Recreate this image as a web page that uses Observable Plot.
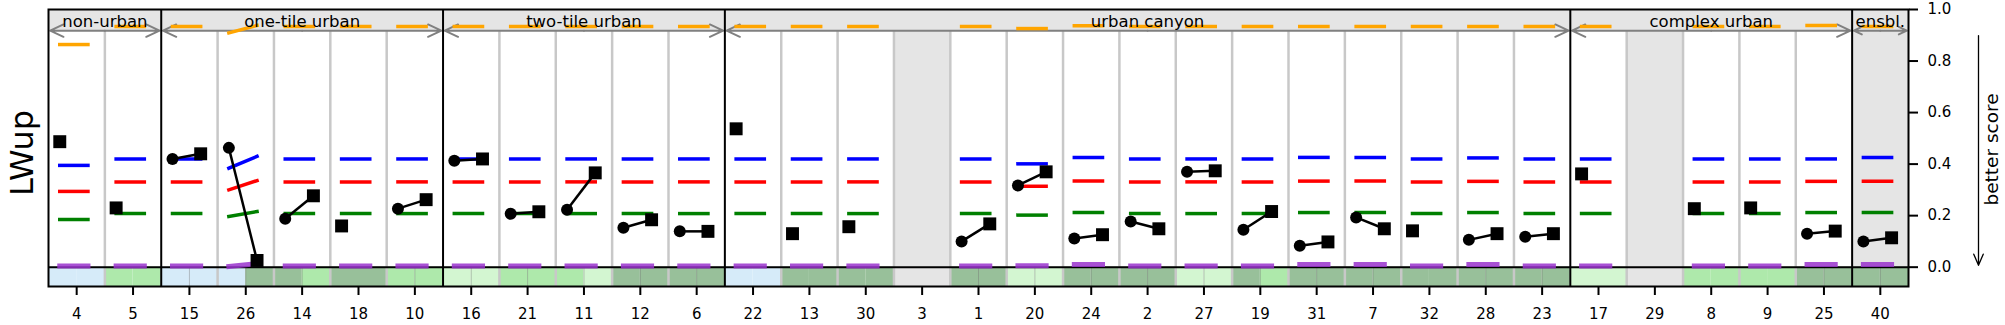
<!DOCTYPE html>
<html><head><meta charset="utf-8">
<script src="https://cdn.jsdelivr.net/npm/d3@7"></script>
<script src="https://cdn.jsdelivr.net/npm/@observablehq/plot@0.6"></script>
<style>body{margin:0;background:#fff}</style>
</head><body><div id="chart"></div>
<script>
// ---------------- data ----------------
const categories = ["4","5","15","26","14","18","10","16","21","11","12","6","22","13","30","3","1","20","24","2","27","19","31","7","32","28","23","17","29","8","9","25","40"];
const groupNames = ["non-urban","one-tile urban","two-tile urban","urban canyon","complex urban","ensbl."];
const groupSizes = [2,5,5,15,5,1];
const yTicks = [0.0,0.2,0.4,0.6,0.8,1.0];
const yLabel = "LWup";
const sideLabel = "better score";

// reference model scores per site (single value = flat, [left,right] = two configs)
const orangeRef = [0.864,0.934,0.934,[0.909,0.938],0.934,0.934,0.934,0.934,0.934,0.934,0.934,0.934,0.934,0.934,0.934,null,0.934,0.926,0.937,0.934,0.934,0.934,0.934,0.934,0.934,0.934,0.934,0.934,null,0.934,0.934,0.938,0.934];
const blueRef   = [0.395,0.42,0.42,[0.384,0.43],0.42,0.42,0.42,0.42,0.42,0.42,0.42,0.42,0.42,0.42,0.42,null,0.42,0.401,0.426,0.42,0.42,0.42,0.426,0.426,0.42,0.424,0.42,0.42,null,0.42,0.42,0.42,0.426];
const redRef    = [0.294,0.331,0.331,[0.300,0.336],0.331,0.331,0.331,0.331,0.331,0.331,0.331,0.331,0.331,0.331,0.331,null,0.331,0.314,0.334,0.331,0.331,0.331,0.334,0.334,0.331,0.333,0.331,0.331,null,0.331,0.331,0.333,0.333];
const greenRef  = [0.185,0.208,0.208,[0.197,0.216],0.208,0.208,0.208,0.208,0.208,0.208,0.208,0.208,0.208,0.208,0.208,null,0.208,0.202,0.212,0.208,0.208,0.208,0.212,0.212,0.208,0.212,0.208,0.208,null,0.208,0.208,0.212,0.212];
const purpleRef = [0.005,0.005,0.005,[0.003,0.014],0.005,0.005,0.005,0.005,0.005,0.005,0.005,0.005,0.005,0.005,0.005,null,0.005,0.006,0.01,0.005,0.005,0.005,0.01,0.01,0.005,0.01,0.005,0.005,null,0.005,0.005,0.01,0.01];

// model scores: first configuration (circle) and second (square)
const circleVals = [null,null,0.42,0.463,0.188,null,0.227,0.413,0.207,0.223,0.153,0.139,null,null,null,null,0.10,0.317,0.111,0.177,0.37,0.145,0.083,0.193,null,0.106,0.118,null,null,null,null,0.13,0.10];
const squareVals = [0.487,0.23,0.44,0.026,0.277,0.16,0.262,0.42,0.215,0.366,0.184,0.139,0.537,0.13,0.157,null,0.168,0.37,0.126,0.149,0.374,0.216,0.098,0.149,0.141,0.13,0.13,0.362,null,0.227,0.23,0.14,0.114];

// bottom strip categories (left half, right half)
const stripLeft  = ["lb","lg","lb","lb","dg","dg","lg","pg","lg","lg","dg","dg","lb","dg","dg","gr","dg","pg","dg","dg","pg","dg","dg","dg","dg","dg","dg","pg","gr","lg","lg","dg","dg"];
const stripRight = ["lb","lg","lb","dg","lg","dg","lg","pg","lg","pg","dg","dg","lb","dg","dg","gr","dg","pg","dg","dg","pg","lg","dg","dg","dg","dg","dg","pg","gr","lg","lg","dg","dg"];
const shadedCols = ["3","29","40"];

// ---------------- styling / layout ----------------
const stripColors = {lb:"#d6ebf9", lg:"#aee9ab", dg:"#98c09a", pg:"#d3f6d1", gr:"#e5e5e5"};
const refColors = [
  ["orange", orangeRef, 3.5, 1],
  ["blue", blueRef, 3.5, 1],
  ["red", redRef, 3.5, 1],
  ["green", greenRef, 3.5, 1],
  ["#9932cc", purpleRef, 5, 0.85]
];
const Y_MIN = -0.075, BAND = 0.918;
const XL = 0.2, XR = 0.7; // positions inside a column

const n = categories.length;
let acc = 0;
const groups = groupNames.map((name, k) => { const g = {name, start: acc, end: acc + groupSizes[k]}; acc += groupSizes[k]; g.mid = (g.start + g.end) / 2; return g; });
const groupEdges = groups.slice(0, -1).map(g => g.end);

const cols = d3.range(n);
const refMarks = refColors.map(([color, arr, sw, op]) => {
  const rows = cols.filter(i => arr[i] != null).map(i => {
    const v = arr[i]; const [a, b] = Array.isArray(v) ? v : [v, v];
    return {x1: i + XL, x2: i + XR, y1: a, y2: b};
  });
  return Plot.link(rows, {x1: "x1", x2: "x2", y1: "y1", y2: "y2", stroke: color, strokeWidth: sw, strokeOpacity: op, strokeLinecap: "square"});
});

const stripRows = cols.flatMap(i => [
  {x1: i, x2: i + 0.5, c: stripColors[stripLeft[i]]},
  {x1: i + 0.5, x2: i + 1, c: stripColors[stripRight[i]]}
]);
const shaded = cols.filter(i => shadedCols.includes(categories[i]));
const pairCols = cols.filter(i => circleVals[i] != null && squareVals[i] != null);
const circleCols = cols.filter(i => circleVals[i] != null);
const squareCols = cols.filter(i => squareVals[i] != null);
const separators = d3.range(1, n).filter(b => !groupEdges.includes(b));

const plot = Plot.plot({
  width: 2005, height: 325,
  marginLeft: 48, marginRight: 97, marginTop: 9, marginBottom: 39,
  style: {fontFamily: "DejaVu Sans, sans-serif", fontSize: "15px", background: "white", color: "black"},
  x: {domain: [0, n]},
  y: {domain: [Y_MIN, 1]},
  marks: [
    Plot.rect(shaded, {x1: i => i, x2: i => i + 1, y1: i => (stripLeft[i] === "gr" ? Y_MIN : 0), y2: 1, fill: "#e5e5e5"}),
    Plot.rect(groups, {x1: "start", x2: "end", y1: BAND, y2: 1, fill: "#e5e5e5"}),
    Plot.rect(stripRows, {x1: "x1", x2: "x2", y1: Y_MIN, y2: 0, fill: "c"}),
    Plot.ruleX(circleCols, {x: i => i + 0.5, y1: Y_MIN, y2: 0, stroke: "#707070", strokeOpacity: 0.4, strokeWidth: 1}),
    Plot.ruleX(separators, {x: d => d, y1: Y_MIN, y2: BAND, stroke: "#c8c8c8", strokeWidth: 2.5}),
    Plot.arrow(groups, {x1: "mid", x2: g => g.start + 0.03, y1: BAND, y2: BAND, stroke: "#808080", strokeWidth: 2, headLength: 11, headAngle: 50}),
    Plot.arrow(groups, {x1: "mid", x2: g => g.end - 0.03, y1: BAND, y2: BAND, stroke: "#808080", strokeWidth: 2, headLength: 11, headAngle: 50}),
    Plot.ruleY([0], {stroke: "black", strokeWidth: 2}),
    ...refMarks,
    Plot.text(groups, {x: "mid", text: "name", frameAnchor: "top", lineAnchor: "middle", dy: 12, fontSize: 16.5, fill: "black"}),
    Plot.ruleX(groupEdges, {x: d => d, y1: Y_MIN, y2: 1, stroke: "black", strokeWidth: 2}),
    Plot.frame({stroke: "black", strokeWidth: 2}),
    Plot.link(pairCols, {x1: i => i + XL, x2: i => i + XR, y1: i => circleVals[i], y2: i => squareVals[i], stroke: "black", strokeWidth: 2.5}),
    Plot.dot(circleCols, {x: i => i + XL, y: i => circleVals[i], r: 6, fill: "black", stroke: "none"}),
    Plot.dot(squareCols, {x: i => i + (circleVals[i] != null ? XR : XL), y: i => squareVals[i], r: 7.3, symbol: "square", fill: "black", stroke: "none"}),
    Plot.axisX({ticks: cols.map(i => i + 0.5), tickFormat: d => categories[Math.floor(d)], tickSize: 9, tickPadding: 13, fontSize: 15, strokeWidth: 2, label: null}),
    Plot.axisY({anchor: "right", ticks: yTicks, tickFormat: d3.format(".1f"), tickSize: 9, tickPadding: 10, fontSize: 15, strokeWidth: 2, label: null}),
    Plot.text([yLabel], {text: d => d, frameAnchor: "left", textAnchor: "middle", lineAnchor: "middle", dx: -25.5, dy: 5, rotate: -90, fontSize: 32}),
    Plot.text([sideLabel], {text: d => d, frameAnchor: "right", textAnchor: "middle", lineAnchor: "middle", dx: 84, dy: 1.5, rotate: -90, fontSize: 18.5}),
    Plot.arrow([sideLabel], {x1: n, x2: n, y1: 0.899, y2: 0.007, dx: 70, stroke: "black", strokeWidth: 1.3, headLength: 14, headAngle: 46})
  ]
});
document.getElementById("chart").appendChild(plot);
</script>
</body></html>
